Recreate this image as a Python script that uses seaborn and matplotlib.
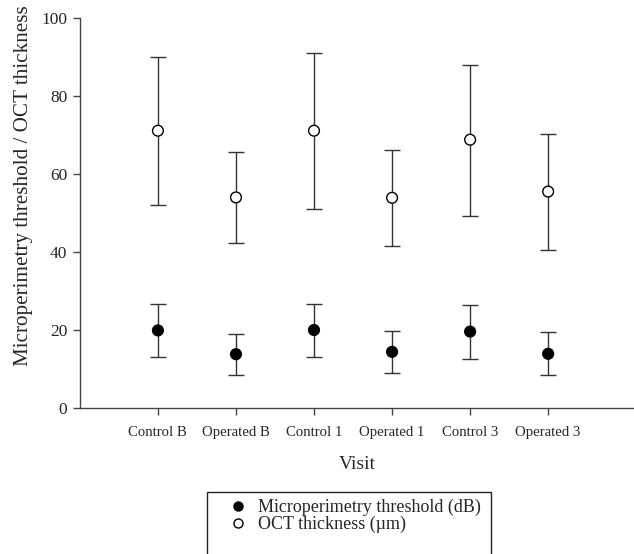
import matplotlib
matplotlib.use("Agg")
import matplotlib.pyplot as plt
import seaborn as sns
import pandas as pd
from matplotlib.patches import Rectangle

visits = ["Control B", "Operated B", "Control 1", "Operated 1", "Control 3", "Operated 3"]

micro_mean = [19.9, 13.8, 20.0, 14.4, 19.6, 13.9]
micro_low = [13.1, 8.5, 13.2, 8.9, 12.6, 8.4]
micro_high = [26.6, 19.0, 26.7, 19.7, 26.4, 19.4]

oct_mean = [71.1, 54.0, 71.1, 53.9, 68.8, 55.5]
oct_low = [52.1, 42.4, 51.1, 41.5, 49.3, 40.5]
oct_high = [90.1, 65.6, 91.1, 66.2, 88.0, 70.3]


def main():
    sns.set_style("ticks")
    plt.rcParams['font.family'] = ['Liberation Serif', 'DejaVu Serif']

    pos = list(range(1, len(visits) + 1))
    df = pd.DataFrame({
        "pos": pos * 2,
        "value": micro_mean + oct_mean,
        "series": ["Microperimetry threshold (dB)"] * 6 + ["OCT thickness (\u00b5m)"] * 6,
    })

    fig = plt.figure(figsize=(6.34, 5.54), dpi=100)
    ax = fig.add_axes([0.126, 0.2635, 0.874, 0.704])

    # error bars first, markers drawn on top
    for mean, lo, hi in [(micro_mean, micro_low, micro_high), (oct_mean, oct_low, oct_high)]:
        err = [[m - l for m, l in zip(mean, lo)], [h - m for m, h in zip(mean, hi)]]
        ax.errorbar(pos, mean, yerr=err, fmt="none", ecolor="#333333",
                    elinewidth=1.0, capsize=6, capthick=1.0, zorder=2)

    sns.scatterplot(data=df, x="pos", y="value", hue="series", style="series",
                    palette={"Microperimetry threshold (dB)": "black",
                             "OCT thickness (\u00b5m)": "white"},
                    markers={"Microperimetry threshold (dB)": "o",
                             "OCT thickness (\u00b5m)": "o"},
                    s=60, edgecolor="black", linewidth=1.0, zorder=3, ax=ax, legend=False)

    ax.set_xlim(0, 7.1)
    ax.set_ylim(0, 100)
    ax.set_xticks(pos)
    ax.set_xticklabels(visits, fontsize=10.6)
    ax.set_yticks([0, 20, 40, 60, 80, 100])
    ax.tick_params(axis="y", labelsize=12.5, length=5, width=1, color="#444444", pad=4)
    ax.tick_params(axis="x", length=5, width=1, color="#444444", pad=8)
    ax.set_xlabel("Visit", fontsize=14, labelpad=12)
    ax.set_ylabel("Microperimetry threshold / OCT thickness", fontsize=15.2)
    ax.yaxis.set_label_coords(-0.085, 0.569)
    for side in ["top", "right"]:
        ax.spines[side].set_visible(False)
    for side in ["left", "bottom"]:
        ax.spines[side].set_color("#444444")
        ax.spines[side].set_linewidth(1.0)

    h1 = plt.Line2D([], [], ls="none", marker="o", markersize=6.5,
                    markerfacecolor="black", markeredgecolor="black")
    h2 = plt.Line2D([], [], ls="none", marker="o", markersize=6.5,
                    markerfacecolor="white", markeredgecolor="black")
    fig.legend([h1, h2], ["Microperimetry threshold (dB)", "OCT thickness (\u00b5m)"],
               loc="upper left", bbox_to_anchor=(0.342, 0.1227), frameon=False,
               fontsize=13, handlelength=1.0, handletextpad=0.6, labelspacing=0.0,
               borderpad=0.2)
    fig.patches.append(Rectangle((207 / 634, -0.05), 284 / 634, (554 - 492) / 554 + 0.05,
                                 transform=fig.transFigure, fill=False,
                                 edgecolor="#222222", linewidth=1.0))

    fig.savefig("out.png", dpi=100)
    plt.close(fig)


if __name__ == "__main__":
    main()
